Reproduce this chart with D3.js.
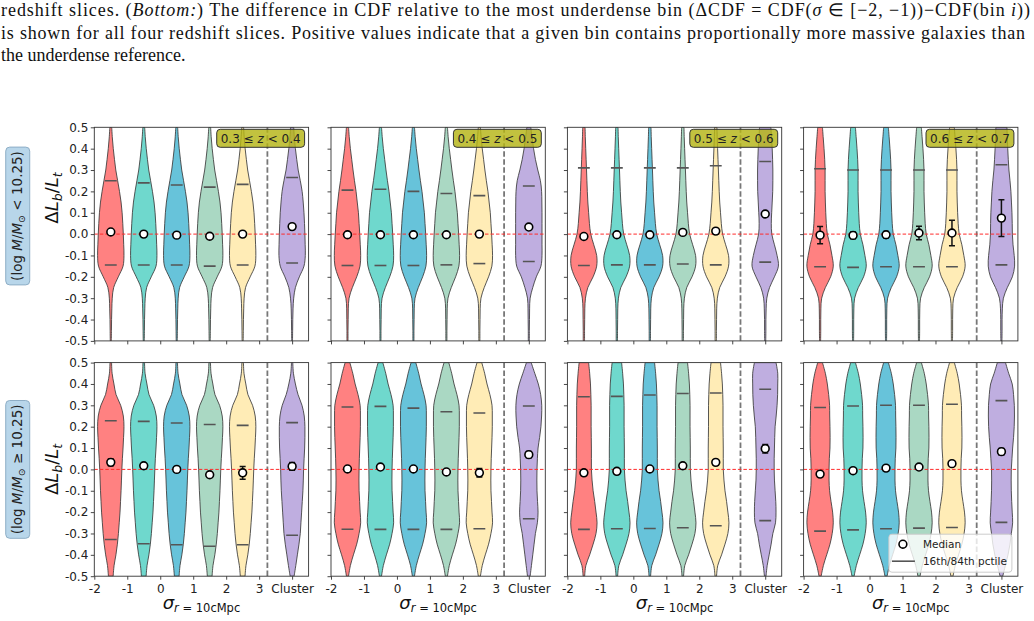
<!DOCTYPE html>
<html>
<head>
<meta charset="utf-8">
<style>
  body { margin: 0; background: #fff; }
  svg { display: block; font-family: "DejaVu Sans", sans-serif; }
  .caption { font-family: "Liberation Serif", serif; font-size: 18px; fill: #111; }
  .tick text { font-size: 12px; fill: #222; font-family: "DejaVu Sans", sans-serif; }
  .tick line { stroke: #333; stroke-width: 0.9; }
</style>
</head>
<body>
<script src="https://cdn.jsdelivr.net/npm/d3@7"></script>
<script>
var W = 1034, H = 621;

// ---- data ----
var binPos = [-1.5, -0.5, 0.5, 1.5, 2.5, 4];          // 5 density bins + cluster
var xTicks = [-2, -1, 0, 1, 2, 3, 4];
var xTickLabels = ["-2", "-1", "0", "1", "2", "3", "Cluster"];
var yTicks = [-0.5, -0.4, -0.3, -0.2, -0.1, 0, 0.1, 0.2, 0.3, 0.4, 0.5];
var zRanges = [["0.3", "0.4"], ["0.4", "0.5"], ["0.5", "0.6"], ["0.6", "0.7"]];
var massLabels = ["<", "\u2265"];
var colors = ["#ff8181", "#6fd8cd", "#67c3da", "#aad8c3", "#ffecb6", "#bfaee0"];

// medians, error on median, 16th / 84th percentiles: [panel][bin]
var medLow = [
  [0.010, 0.000, -0.005, -0.010, 0.000, 0.035],
  [-0.003, -0.003, -0.003, -0.003, 0.000, 0.033],
  [-0.011, -0.003, -0.003, 0.008, 0.014, 0.094],
  [-0.005, -0.006, -0.003, 0.005, 0.005, 0.075]
];
var errLow = [
  [0.006, 0.004, 0.004, 0.004, 0.006, 0.008],
  [0.005, 0.004, 0.004, 0.005, 0.006, 0.008],
  [0.006, 0.005, 0.005, 0.006, 0.008, 0.012],
  [0.040, 0.016, 0.015, 0.032, 0.060, 0.086]
];
var p84Low = [
  [0.250, 0.240, 0.230, 0.220, 0.233, 0.265],
  [0.206, 0.210, 0.200, 0.190, 0.180, 0.225],
  [0.310, 0.310, 0.310, 0.310, 0.320, 0.340],
  [0.306, 0.300, 0.300, 0.300, 0.300, 0.325]
];
var p16Low = [
  [-0.145, -0.145, -0.145, -0.150, -0.145, -0.135],
  [-0.147, -0.147, -0.147, -0.144, -0.138, -0.128],
  [-0.147, -0.144, -0.144, -0.140, -0.144, -0.131],
  [-0.153, -0.156, -0.153, -0.153, -0.153, -0.144]
];
var medHigh = [
  [0.033, 0.017, 0.000, -0.025, -0.016, 0.014],
  [0.002, 0.011, 0.002, -0.012, -0.016, 0.069],
  [-0.016, -0.009, 0.002, 0.017, 0.033, 0.097],
  [-0.022, -0.006, 0.006, 0.011, 0.027, 0.083]
];
var errHigh = [
  [0.016, 0.008, 0.006, 0.008, 0.030, 0.018],
  [0.006, 0.006, 0.006, 0.008, 0.020, 0.015],
  [0.006, 0.006, 0.006, 0.006, 0.012, 0.020],
  [0.006, 0.006, 0.006, 0.006, 0.008, 0.015]
];
var p84High = [
  [0.228, 0.225, 0.217, 0.210, 0.206, 0.219],
  [0.292, 0.295, 0.287, 0.270, 0.264, 0.297],
  [0.340, 0.342, 0.348, 0.355, 0.358, 0.375],
  [0.290, 0.297, 0.300, 0.300, 0.305, 0.322]
];
var p16High = [
  [-0.328, -0.348, -0.353, -0.360, -0.353, -0.308],
  [-0.280, -0.281, -0.281, -0.281, -0.278, -0.231],
  [-0.281, -0.278, -0.277, -0.273, -0.264, -0.240],
  [-0.289, -0.283, -0.278, -0.275, -0.272, -0.248]
];

// violin outlines: relative half-width at these levels (bottom -> top)
var levels = [-0.5, -0.45, -0.4, -0.35, -0.3, -0.25, -0.2, -0.15, -0.1, -0.05, 0,
              0.05, 0.1, 0.15, 0.2, 0.25, 0.3, 0.35, 0.4, 0.45, 0.5];
// [panel] -> [field shape, cluster shape]
var shapesLow = [
  [[0.04,0.05,0.06,0.08,0.11,0.22,0.57,0.93,1.0,0.98,0.95,0.91,0.86,0.78,0.66,0.52,0.38,0.28,0.19,0.12,0.07],
   [0.03,0.04,0.05,0.07,0.12,0.25,0.55,0.90,1.0,0.99,0.97,0.94,0.90,0.84,0.76,0.62,0.46,0.35,0.25,0.17,0.12]],
  [[0.04,0.04,0.05,0.06,0.12,0.37,0.70,0.95,1.0,0.97,0.93,0.88,0.83,0.74,0.65,0.53,0.42,0.32,0.22,0.14,0.08],
   [0.04,0.04,0.05,0.06,0.10,0.30,0.57,0.92,1.0,1.0,1.0,1.0,1.0,0.99,0.97,0.88,0.68,0.50,0.36,0.25,0.15]],
  [[0.05,0.05,0.06,0.07,0.12,0.30,0.70,0.97,0.97,0.75,0.52,0.42,0.36,0.30,0.26,0.23,0.20,0.17,0.14,0.11,0.09],
   [0.04,0.05,0.05,0.07,0.12,0.33,0.70,1.0,0.90,0.70,0.50,0.46,0.49,0.53,0.57,0.58,0.58,0.56,0.53,0.48,0.43]],
  [[0.04,0.05,0.05,0.06,0.12,0.40,0.80,1.0,0.90,0.75,0.55,0.47,0.43,0.40,0.38,0.38,0.38,0.35,0.30,0.24,0.18],
   [0.04,0.05,0.05,0.07,0.15,0.45,0.83,1.0,0.97,0.88,0.83,0.82,0.80,0.76,0.72,0.65,0.57,0.52,0.48,0.45,0.42]]
];
var shapesHigh = [
  [[0.18,0.25,0.39,0.50,0.58,0.64,0.70,0.74,0.78,0.81,0.84,0.88,0.93,0.97,1.0,0.95,0.75,0.40,0.24,0.10,0.06],
   [0.15,0.28,0.40,0.52,0.62,0.67,0.72,0.77,0.82,0.85,0.87,0.91,0.95,0.97,0.97,0.92,0.75,0.45,0.25,0.10,0.05]],
  [[0.08,0.22,0.45,0.70,0.88,1.0,0.96,0.92,0.88,0.87,0.88,0.90,0.93,0.96,0.98,0.98,0.96,0.80,0.58,0.40,0.18],
   [0.10,0.20,0.30,0.40,0.50,0.65,0.70,0.66,0.62,0.61,0.62,0.65,0.70,0.82,0.92,0.97,0.98,0.90,0.72,0.45,0.18]],
  [[0.06,0.15,0.44,0.70,0.92,1.0,0.92,0.82,0.70,0.62,0.57,0.57,0.57,0.56,0.55,0.55,0.55,0.53,0.50,0.44,0.36],
   [0.06,0.15,0.30,0.45,0.58,0.78,0.82,0.80,0.75,0.70,0.68,0.68,0.70,0.72,0.75,0.83,0.90,0.94,0.95,0.95,0.82]],
  [[0.08,0.25,0.50,0.75,0.92,1.0,0.95,0.83,0.72,0.68,0.68,0.70,0.75,0.76,0.75,0.73,0.72,0.65,0.55,0.40,0.18],
   [0.10,0.30,0.50,0.65,0.75,0.85,0.82,0.78,0.75,0.74,0.75,0.80,0.85,0.92,0.97,0.99,0.98,0.92,0.82,0.55,0.31]]
];

var rows = [
  { med: medLow, err: errLow, p84: p84Low, p16: p16Low, shapes: shapesLow },
  { med: medHigh, err: errHigh, p84: p84High, p16: p16High, shapes: shapesHigh }
];

// ---- layout ----
var lefts = [94.3, 331, 567.4, 803.6], pw = 214.3;
var tops = [127.3, 362.6], ph = 213.6;
var boxCenters = [216, 469.4], ylabCenters = [198, 469.4];

var svg = d3.select("body").append("svg").attr("width", W).attr("height", H);

// caption text above the figure
var cap = svg.append("g").attr("class", "caption");
var l1 = cap.append("text").attr("x", 1).attr("y", 16).attr("textLength", 1029).attr("lengthAdjust", "spacing");
l1.append("tspan").text("redshift slices. (");
l1.append("tspan").attr("font-style", "italic").text("Bottom:");
l1.append("tspan").text(") The difference in CDF relative to the most underdense bin (\u0394CDF = CDF(");
l1.append("tspan").attr("font-style", "italic").text("\u03c3");
l1.append("tspan").text(" \u2208 [\u22122, \u22121))\u2212CDF(bin ");
l1.append("tspan").attr("font-style", "italic").text("i");
l1.append("tspan").text("))");
cap.append("text").attr("x", 1).attr("y", 39).attr("textLength", 1024).attr("lengthAdjust", "spacing")
  .text("is shown for all four redshift slices. Positive values indicate that a given bin contains proportionally more massive galaxies than");
cap.append("text").attr("x", 1).attr("y", 61).text("the underdense reference.");

var clipN = 0;

rows.forEach(function(row, r) {
  var top = tops[r];

  // row label box
  var rl = svg.append("g").attr("transform", "translate(17," + boxCenters[r] + ") rotate(-90)");
  var rlBg = rl.append("rect");
  var rt = rl.append("text").attr("text-anchor", "middle").attr("dy", "0.35em")
    .attr("font-size", 13.5).attr("fill", "#222");
  rt.append("tspan").text("(log ");
  rt.append("tspan").attr("font-style", "italic").text("M");
  rt.append("tspan").text("/");
  rt.append("tspan").attr("font-style", "italic").text("M");
  rt.append("tspan").attr("font-size", 9.5).attr("dy", 3).text("\u2299");
  rt.append("tspan").attr("dy", -3).text(" " + massLabels[r] + " 10.25)");
  var bb = rt.node().getBBox();
  rlBg.attr("x", bb.x - 4).attr("y", bb.y - 3).attr("width", bb.width + 8).attr("height", bb.height + 6)
    .attr("rx", 4).attr("fill", "#b8d6ea").attr("stroke", "#8eaec6").attr("stroke-width", 1);

  // y axis label
  var yl = svg.append("text").attr("transform", "translate(58," + ylabCenters[r] + ") rotate(-90)")
    .attr("text-anchor", "middle").attr("font-size", 18).attr("fill", "#111");
  yl.append("tspan").text("\u0394");
  yl.append("tspan").attr("font-style", "italic").text("L");
  yl.append("tspan").attr("font-style", "italic").attr("font-size", 12.5).attr("dy", 4).text("b");
  yl.append("tspan").attr("dy", -4).text("/");
  yl.append("tspan").attr("font-style", "italic").text("L");
  yl.append("tspan").attr("font-style", "italic").attr("font-size", 12.5).attr("dy", 4).text("t");

  lefts.forEach(function(left, p) {
    var x = d3.scaleLinear().domain([-2, 4.5]).range([left, left + pw]);
    var y = d3.scaleLinear().domain([-0.5, 0.5]).range([top + ph, top]);
    var g = svg.append("g");

    var cid = "clip" + (clipN++);
    g.append("clipPath").attr("id", cid).append("rect")
      .attr("x", left).attr("y", top).attr("width", pw).attr("height", ph);
    var plot = g.append("g").attr("clip-path", "url(#" + cid + ")");

    // violins
    binPos.forEach(function(pos, i) {
      var prof = row.shapes[p][i === 5 ? 1 : 0];
      var pts = levels.map(function(lv, k) { return { v: lv, w: prof[k] }; });
      var area = d3.area().curve(d3.curveCatmullRom)
        .y(function(d) { return y(d.v); })
        .x0(function(d) { return x(pos - 0.4 * d.w); })
        .x1(function(d) { return x(pos + 0.4 * d.w); });
      plot.append("path").attr("d", area(pts))
        .attr("fill", colors[i]).attr("stroke", "#3a3a3a").attr("stroke-opacity", 0.85).attr("stroke-width", 1);
    });

    // 16th / 84th percentile ticks
    binPos.forEach(function(pos, i) {
      [row.p16[p][i], row.p84[p][i]].forEach(function(v) {
        plot.append("line").attr("x1", x(pos - 0.18)).attr("x2", x(pos + 0.18))
          .attr("y1", y(v)).attr("y2", y(v)).attr("stroke", "#555").attr("stroke-width", 1.6);
      });
    });

    // cluster separator
    plot.append("line").attr("x1", x(3.25)).attr("x2", x(3.25)).attr("y1", top).attr("y2", top + ph)
      .attr("stroke", "#777").attr("stroke-width", 1.8).attr("stroke-dasharray", "5.5,2.5");

    // zero line
    plot.append("line").attr("x1", left).attr("x2", left + pw).attr("y1", y(0)).attr("y2", y(0))
      .attr("stroke", "#ff2a2a").attr("stroke-width", 1).attr("stroke-dasharray", "3.5,2");

    // medians with errors
    binPos.forEach(function(pos, i) {
      var m = row.med[p][i], e = row.err[p][i];
      var eg = plot.append("g").attr("stroke", "#111").attr("stroke-width", 1.5);
      eg.append("line").attr("x1", x(pos)).attr("x2", x(pos)).attr("y1", y(m - e)).attr("y2", y(m + e));
      [m - e, m + e].forEach(function(v) {
        eg.append("line").attr("x1", x(pos) - 3).attr("x2", x(pos) + 3).attr("y1", y(v)).attr("y2", y(v));
      });
      plot.append("circle").attr("cx", x(pos)).attr("cy", y(m)).attr("r", 3.9)
        .attr("fill", "#fff").attr("stroke", "#000").attr("stroke-width", 1.6);
    });

    // redshift tag (top row)
    if (r === 0) {
      var tg = g.append("g");
      var tbg = tg.append("rect");
      var tt = tg.append("text").attr("font-size", 12).attr("fill", "#222")
        .attr("text-anchor", "end").attr("x", left + pw - 8).attr("y", top + 15.5);
      tt.append("tspan").text(zRanges[p][0] + " \u2264 ");
      tt.append("tspan").attr("font-style", "italic").text("z");
      tt.append("tspan").text(" < " + zRanges[p][1]);
      var tb = tt.node().getBBox();
      tbg.attr("x", tb.x - 4).attr("y", top + 2).attr("width", tb.width + 8).attr("height", 18)
        .attr("rx", 3.5).attr("fill", "#b5b515").attr("fill-opacity", 0.82)
        .attr("stroke", "#333").attr("stroke-width", 1);
    }

    // legend (bottom right panel)
    if (r === 1 && p === 3) {
      var lg = g.append("g").attr("transform", "translate(" + (left + pw - 129) + "," + (top + ph - 42) + ")");
      lg.append("rect").attr("width", 123).attr("height", 38).attr("rx", 3)
        .attr("fill", "#fff").attr("fill-opacity", 0.8).attr("stroke", "#ccc").attr("stroke-width", 1);
      lg.append("circle").attr("cx", 14).attr("cy", 10).attr("r", 3.9)
        .attr("fill", "#fff").attr("stroke", "#000").attr("stroke-width", 1.6);
      lg.append("line").attr("x1", 3).attr("x2", 26).attr("y1", 27).attr("y2", 27)
        .attr("stroke", "#555").attr("stroke-width", 1.6);
      lg.append("text").attr("x", 34).attr("y", 14).attr("font-size", 10.5).attr("fill", "#222").text("Median");
      lg.append("text").attr("x", 34).attr("y", 31).attr("font-size", 10.5).attr("fill", "#222").text("16th/84th pctile");
    }

    // axes
    var ya = d3.axisLeft(y).tickValues(yTicks).tickSize(3.5).tickPadding(2.5)
      .tickFormat(p === 0 ? function(d) { return d.toFixed(1); } : "");
    g.append("g").attr("transform", "translate(" + left + ",0)").call(ya).call(function(s) { s.select(".domain").remove(); });
    var xa = d3.axisBottom(x).tickValues(xTicks).tickSize(3.5).tickPadding(4.5)
      .tickFormat(r === 1 ? function(d, i) { return xTickLabels[i]; } : "");
    g.append("g").attr("transform", "translate(0," + (top + ph) + ")").call(xa).call(function(s) { s.select(".domain").remove(); });

    g.append("rect").attr("x", left).attr("y", top).attr("width", pw).attr("height", ph)
      .attr("fill", "none").attr("stroke", "#333").attr("stroke-width", 0.9);

    // x axis title
    if (r === 1) {
      var xt = g.append("text").attr("x", left + pw / 2).attr("y", 609).attr("text-anchor", "middle").attr("fill", "#111");
      xt.append("tspan").attr("font-style", "italic").attr("font-size", 18).text("\u03c3");
      xt.append("tspan").attr("font-style", "italic").attr("font-size", 11.5).attr("dy", 3).text("r");
      xt.append("tspan").attr("font-size", 11.5).text(" = 10cMpc");
    }
  });
});
</script>
</body>
</html>
